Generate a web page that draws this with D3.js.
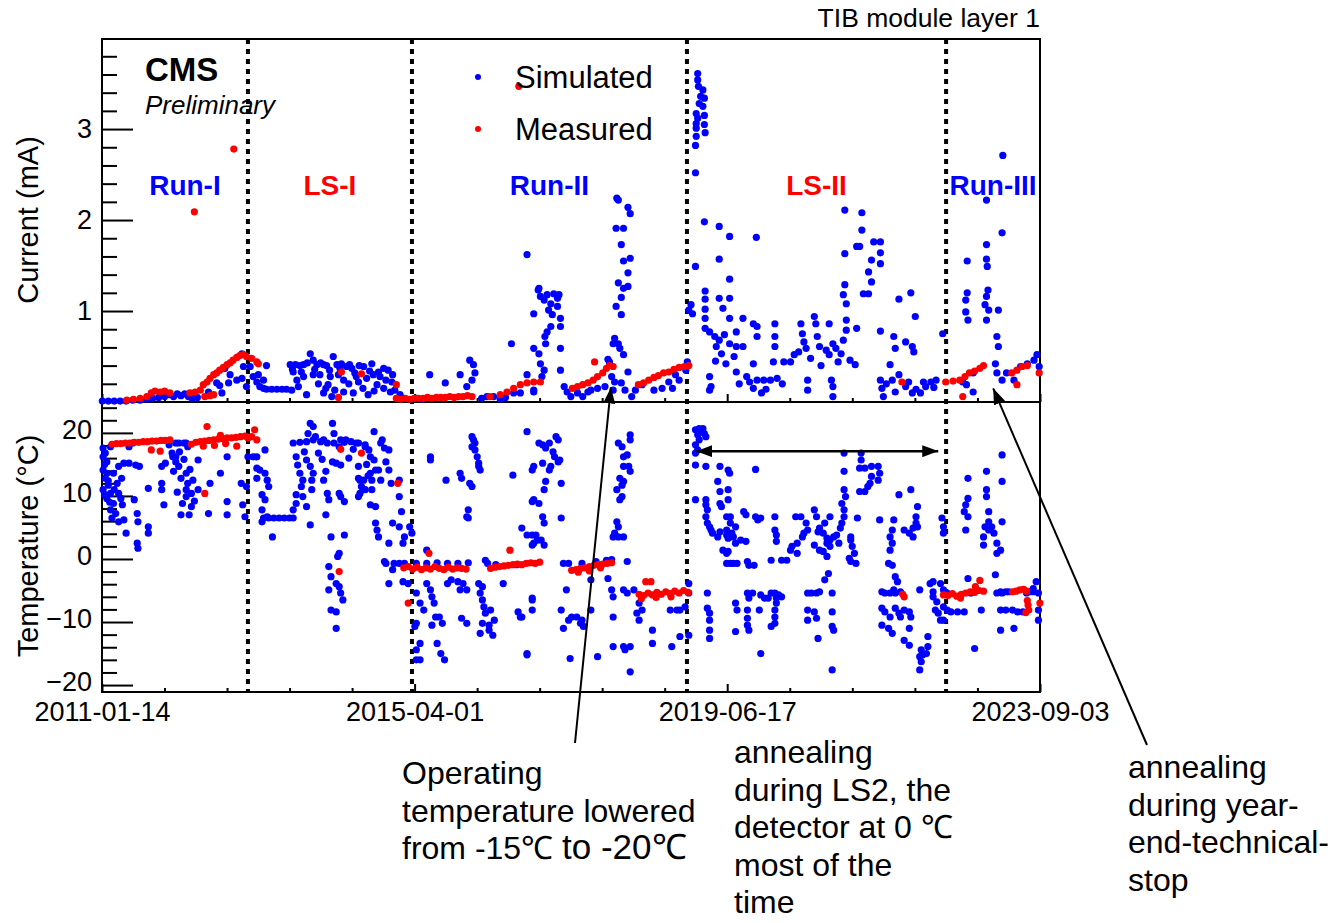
<!DOCTYPE html>
<html>
<head>
<meta charset="utf-8">
<script src="https://cdn.jsdelivr.net/npm/d3@7"></script>
<style>
body { margin: 0; background: #fff; }
svg { font-family: "Liberation Sans", Arial, Helvetica, sans-serif; }
.axis path.domain { display: none; }
.axis line { stroke: #000; stroke-width: 2; }
.axis text { fill: #000; }
</style>
</head>
<body>
<svg width="1331" height="923"></svg>
<script>

// values: [decimal year, value]
var simCurrent = [
 [2011.04,0.01],[2011.12,0.01],[2011.2,0.01],[2011.28,0.01],[2011.36,0.01],[2011.45,0.02],[2011.55,0.02],[2011.64,0.03],
 [2011.72,0.04],[2011.8,0.05],[2011.88,0.06],[2011.95,0.08],[2012.0,0.06],[2012.05,0.09],[2012.1,0.07],[2012.15,0.09],
 [2012.2,0.06],[2012.25,0.04],[2012.32,0.05],[2012.47,0.11],[2012.58,0.21],[2012.62,0.18],[2012.65,0.10],[2012.69,0.37],
 [2012.74,0.21],[2012.76,0.30],[2012.85,0.24],[2012.92,0.26],[2012.94,0.39],[2012.92,0.53],[2012.98,0.17],
 [2013.03,0.39],[2013.07,0.28],[2013.12,0.22],[2013.14,0.30],[2013.16,0.17],[2013.21,0.15],[2013.25,0.40],[2013.21,0.24],
 [2013.25,0.14],[2013.32,0.14],[2013.39,0.14],[2013.46,0.14],[2013.52,0.14],[2013.57,0.41],[2013.61,0.33],[2013.66,0.24],
 [2013.68,0.17],[2013.59,0.13],[2013.75,0.41],[2013.84,0.53],[2013.88,0.46],[2013.93,0.41],[2014.02,0.41],[2013.97,0.30],
 [2014.11,0.28],[2014.08,0.19],[2014.15,0.50],[2014.20,0.41],[2014.24,0.37],[2014.17,0.13],[2014.13,0.06],[2014.29,0.24],
 [2014.33,0.39],[2014.40,0.37],[2014.44,0.32],[2014.49,0.22],[2014.56,0.39],[2014.60,0.26],[2014.67,0.42],[2014.69,0.30],
 [2014.74,0.19],[2014.78,0.28],[2014.83,0.15],[2014.83,0.37],[2014.89,0.35],[2014.94,0.22],[2014.92,0.11],[2014.98,0.13],
 [2015.05,0.08],[2015.10,0.04],[2014.42,0.10],[2014.29,0.11],[2014.02,0.10],[2013.79,0.08],[2013.75,0.28],
 [2013.64,0.41],[2013.70,0.40],[2013.80,0.43],[2013.98,0.43],[2014.06,0.40],[2014.26,0.42],[2014.37,0.41],[2014.50,0.40],
 [2013.88,0.30],[2013.95,0.20],[2014.05,0.15],[2014.36,0.20],[2014.55,0.15],[2014.62,0.08],[2014.70,0.12],[2014.86,0.24],[2014.95,0.30],
 [2013.60,0.36],[2013.72,0.33],[2013.90,0.36],[2014.10,0.35],[2014.22,0.30],[2014.46,0.28],[2014.64,0.34],[2014.76,0.33],
 [2015.27,0.04],[2015.35,0.03],[2015.45,0.30],[2015.66,0.21],[2015.86,0.30],[2015.99,0.46],[2016.04,0.41],[2016.06,0.32],
 [2016.02,0.24],[2015.95,0.17],[2016.15,0.04],[2016.22,0.06],[2016.31,0.06],[2016.40,0.03],[2016.47,0.05],[2016.55,0.64],
 [2016.58,0.10],[2016.67,0.10],[2016.76,1.62],[2016.76,0.30],[2016.85,0.97],[2016.85,0.59],[2016.85,0.11],[2016.91,1.23],
 [2016.92,1.25],[2016.94,1.16],[2016.99,1.12],[2017.03,1.18],[2017.08,1.08],[2017.12,1.19],[2017.17,1.14],[2017.19,1.18],
 [2017.05,1.01],[2017.10,0.96],[2017.17,1.05],[2017.21,0.92],[2017.08,0.83],[2017.03,0.77],[2017.01,0.64],[2017.00,0.72],
 [2017.21,0.83],[2017.21,0.59],[2016.92,0.53],[2016.94,0.42],[2016.99,0.35],[2016.96,0.28],[2017.21,0.35],[2016.85,0.13],
 [2017.26,0.17],[2017.30,0.11],[2017.35,0.06],[2017.44,0.10],[2017.51,0.06],[2017.58,0.11],[2017.62,0.13],[2017.71,0.15],
 [2017.81,0.17],[2017.87,0.44],[2017.85,0.47],
 [2017.97,2.24],[2018.12,2.14],[2017.99,2.22],[2018.15,2.07],[2017.96,1.91],[2018.06,1.91],[2018.03,1.73],[2018.06,1.55],
 [2018.15,1.58],[2018.12,1.42],[2017.99,1.31],[2018.06,1.25],[2018.12,1.27],[2018.03,1.15],[2017.96,1.05],[2018.03,0.96],
 [2017.94,0.70],[2017.99,0.64],[2018.01,0.59],[2018.06,0.52],[2017.92,0.64],[2018.12,0.33],[2017.90,0.28],[2017.94,0.22],
 [2017.92,0.13],[2018.03,0.21],[2018.08,0.13],[2018.17,0.06],[2018.22,0.13],[2018.31,0.19],[2018.47,0.13],[2018.67,0.22],
 [2018.72,0.15],[2018.81,0.24],[2018.90,0.35],[2018.92,0.44],[2018.58,0.15],[2018.76,0.30],
 [2019.06,3.61],[2019.06,3.54],[2019.07,3.47],[2019.13,3.43],[2019.10,3.36],[2019.15,3.34],[2019.08,3.28],[2019.13,3.25],
 [2019.04,3.17],[2019.15,3.15],[2019.06,3.12],[2019.04,3.06],[2019.15,3.05],[2019.04,3.01],[2019.16,2.96],[2019.04,2.92],
 [2019.03,2.82],[2019.03,2.52],
 [2019.15,1.98],[2019.35,1.93],[2019.49,1.82],[2019.03,1.49],[2019.35,1.57],[2019.49,1.35],[2019.85,1.81],[2019.16,1.22],
 [2019.16,1.13],[2019.35,1.14],[2019.49,1.14],[2019.40,1.03],[2019.16,1.02],[2018.97,1.07],[2018.99,0.97],[2018.94,1.01],
 [2019.49,0.92],[2019.16,0.92],[2019.16,0.81],[2019.22,0.77],[2019.29,0.72],[2019.35,0.68],[2019.42,0.74],[2019.49,0.64],
 [2019.31,0.61],[2019.38,0.53],[2019.44,0.42],[2019.58,0.77],[2019.67,0.92],[2019.81,0.86],[2019.86,0.83],[2019.58,0.61],
 [2019.67,0.61],[2019.86,0.72],[2019.81,0.42],[2019.58,0.33],[2019.22,0.28],[2019.24,0.17],[2019.22,0.13],[2019.72,0.28],
 [2019.76,0.22],[2019.86,0.24],[2019.95,0.24],[2020.04,0.24],[2020.13,0.26],[2020.08,0.44],[2020.10,0.86],[2020.10,0.72],
 [2020.10,0.61],[2019.92,0.10],[2019.81,0.15],[2020.22,0.44],[2020.31,0.44],[2020.36,0.52],[2020.42,0.55],[2020.45,0.86],
 [2020.47,0.75],[2020.49,0.66],[2020.52,0.59],[2020.54,0.24],[2020.54,0.13],[2020.63,0.94],[2020.65,0.86],[2020.67,0.72],
 [2020.70,0.61],[2020.79,0.57],[2020.83,0.86],[2020.83,0.52],[2020.88,0.64],[2020.92,0.59],[2020.86,0.24],[2020.88,0.17],
 [2020.88,0.06],[2020.99,0.53],[2021.02,0.68],[2021.06,0.79],[2021.04,2.11],[2021.04,1.63],[2021.04,1.29],[2021.02,1.18],
 [2021.06,1.08],[2021.06,0.90],[2021.11,0.46],[2021.18,0.41],[2021.20,0.81],[2021.20,1.71],[2021.24,1.71],[2021.27,2.08],
 [2021.27,1.89],[2021.43,1.76],[2021.52,1.76],[2021.40,1.56],[2021.52,1.64],[2021.52,1.52],[2021.36,1.43],[2021.40,1.32],
 [2021.29,1.19],[2021.36,1.19],[2021.52,0.78],[2021.52,0.24],[2021.54,0.15],[2021.56,0.06],[2021.65,0.41],[2021.68,0.24],
 [2021.70,0.72],[2021.72,0.59],[2021.77,1.13],[2021.93,1.20],[2021.86,0.66],[2021.95,0.61],[2021.99,0.94],[2021.97,0.55],
 [2021.86,0.17],[2021.95,0.10],[2022.06,0.10],[2022.13,0.17],[2022.20,0.22],[2022.27,0.24],[2022.36,0.75],[2021.72,0.11],[2021.77,0.30],
 [2019.30,0.45],[2019.55,0.50],[2019.62,0.20],[2019.98,0.14],[2020.20,0.20],[2020.58,0.48],[2020.72,0.40],[2020.95,0.44],
 [2021.60,0.20],[2021.90,0.22],[2022.00,0.14],[2022.10,0.22],[2022.24,0.16],
 [2022.69,1.55],[2022.69,1.20],[2022.67,1.12],[2022.67,0.99],[2022.70,0.90],[2022.95,2.22],[2022.95,1.73],[2022.95,1.57],
 [2022.96,1.49],[2022.97,1.23],[2022.95,1.16],[2022.93,1.07],[2022.98,1.01],[2022.95,0.90],[2023.11,1.01],[2023.16,1.86],
 [2023.09,0.72],[2023.11,0.61],[2023.07,0.42],[2023.09,0.32],[2023.16,0.24],[2023.22,0.32],[2022.77,0.32],[2022.68,0.19],
 [2022.77,0.11],[2022.63,0.22],[2023.41,0.39],[2023.50,0.42],[2023.59,0.46],[2023.63,0.52],[2023.66,0.39],[2023.32,0.24],
 [2023.17,2.71]
];

var measCurrent = [
 [2011.37,0.02],[2011.46,0.03],[2011.55,0.04],[2011.64,0.06],[2011.70,0.10],[2011.75,0.12],[2011.82,0.11],[2011.88,0.12],
 [2011.95,0.10],[2012.22,0.10],[2012.29,0.11],[2012.36,0.13],[2012.40,0.19],[2012.45,0.22],[2012.49,0.26],[2012.54,0.30],
 [2012.58,0.32],[2012.62,0.35],[2012.67,0.38],[2012.72,0.41],[2012.76,0.43],[2012.80,0.46],[2012.85,0.49],[2012.89,0.51],
 [2012.94,0.52],[2012.98,0.50],[2013.05,0.48],[2013.12,0.44],[2013.14,0.42],[2012.42,0.06],[2012.49,0.07],[2012.54,0.08],
 [2012.28,2.09],[2012.81,2.78],[2016.65,3.47],
 [2014.26,0.33],[2014.53,0.31],[2015.00,0.19],[2014.22,0.05],
 [2015.00,0.04],[2015.06,0.03],[2015.12,0.04],[2015.18,0.03],[2015.24,0.04],[2015.30,0.04],[2015.36,0.04],[2015.42,0.05],
 [2015.48,0.04],[2015.54,0.05],[2015.60,0.05],[2015.66,0.05],[2015.72,0.06],[2015.78,0.05],[2015.84,0.06],[2015.90,0.06],
 [2015.96,0.07],[2016.02,0.06],
 [2016.26,0.06],[2016.40,0.08],[2016.49,0.11],[2016.58,0.15],[2016.67,0.19],[2016.76,0.21],[2016.85,0.22],[2016.94,0.22],
 [2017.37,0.15],[2017.44,0.17],[2017.51,0.19],[2017.58,0.21],[2017.65,0.24],[2017.71,0.28],[2017.78,0.32],[2017.83,0.37],
 [2017.87,0.40],[2017.92,0.39],[2017.67,0.44],
 [2018.26,0.19],[2018.33,0.21],[2018.40,0.24],[2018.47,0.27],[2018.53,0.29],[2018.60,0.32],[2018.67,0.33],[2018.74,0.36],
 [2018.81,0.38],[2018.88,0.39],[2018.94,0.40],
 [2021.81,0.22],
 [2022.40,0.22],[2022.50,0.23],[2022.59,0.24],[2022.66,0.28],[2022.72,0.32],[2022.79,0.34],[2022.86,0.37],[2022.91,0.40],
 [2022.63,0.06],[2023.29,0.32],[2023.36,0.35],[2023.43,0.39],[2023.50,0.40],[2023.36,0.19],[2023.66,0.32]
];

var simTemp = [
 [2011.05,17.6],[2011.05,16.2],[2011.10,15.4],[2011.05,14.1],[2011.08,12.8],[2011.12,11.7],[2011.05,11.0],[2011.15,10.4],
 [2011.10,9.6],[2011.19,8.8],[2011.15,7.8],[2011.17,6.5],[2011.26,5.9],[2011.24,12.0],[2011.26,10.4],[2011.29,9.6],
 [2011.33,15.2],[2011.40,15.2],[2011.49,14.9],[2011.54,14.7],[2011.36,4.1],[2011.47,9.4],[2011.51,7.2],[2011.52,5.9],
 [2011.51,2.5],[2011.52,1.7],[2011.66,5.1],[2011.66,4.1],[2011.66,11.2],[2011.84,12.0],[2011.84,11.0],[2011.87,8.6],
 [2011.84,14.7],[2011.89,15.2],[2011.98,16.8],[2012.03,16.2],[2012.03,15.4],[2012.07,14.7],[2012.00,13.9],[2012.10,12.8],
 [2012.17,13.6],[2012.17,11.0],[2012.17,9.9],[2012.12,8.8],[2012.24,8.3],[2012.10,7.0],[2012.21,7.0],[2012.24,10.4],
 [2012.26,12.5],[2012.19,12.0],[2012.33,11.0],[2012.33,15.7],[2012.19,17.8],[2012.14,18.4],[2012.03,18.4],[2011.94,18.1],
 [2012.47,7.2],[2012.49,12.0],[2012.63,13.6],[2012.72,16.2],[2012.72,9.1],[2012.72,7.0],[2012.91,12.0],[2012.98,11.5],
 [2013.00,16.2],[2012.93,8.6],[2012.96,6.7],[2011.08,16.8],[2011.15,17.8],[2011.10,13.6],[2011.19,13.6],[2011.31,8.6],
 [2011.26,14.7],[2011.33,6.2],[2011.40,17.8],[2011.45,18.4],[2012.07,18.4],[2012.17,18.4],[2011.99,16.2],[2012.08,17.0],
 [2011.07,15.0],[2011.12,12.4],[2011.14,9.0],[2011.20,11.0],[2011.22,7.2],[2011.07,10.2],[2011.30,12.8],[2012.05,10.6],
 [2012.14,15.8],[2012.22,14.2],[2012.28,9.2],
 [2013.07,16.2],[2013.12,16.2],[2013.12,14.4],[2013.12,12.8],[2013.16,14.1],[2013.23,13.6],[2013.26,12.5],[2013.28,11.5],
 [2013.19,10.2],[2013.23,9.4],[2013.19,7.8],[2013.21,6.5],[2013.19,5.9],[2013.28,6.5],[2013.35,6.5],[2013.42,6.5],
 [2013.49,6.5],[2013.56,6.5],[2013.61,6.5],[2013.26,6.7],[2013.33,3.5],[2013.23,17.3],
 [2013.61,18.4],[2013.70,18.5],[2013.79,18.6],[2013.88,18.9],[2013.98,18.6],[2014.07,18.4],[2014.16,18.4],[2014.30,18.5],
 [2014.39,18.6],[2014.49,18.4],[2014.58,18.1],
 [2013.65,16.2],[2013.67,14.9],[2013.70,13.6],[2013.74,12.5],[2013.72,11.5],[2013.74,9.9],[2013.65,10.2],[2013.65,8.8],
 [2013.61,7.8],[2013.79,8.3],[2013.79,15.7],[2013.84,14.7],[2013.86,12.5],[2013.86,11.0],[2013.84,5.4],[2013.88,13.6],
 [2013.84,21.5],[2013.88,21.0],[2013.81,19.9],[2013.91,19.4],[2014.02,18.9],[2014.05,13.9],[2014.02,12.5],[2014.07,10.4],
 [2014.09,9.4],[2014.05,7.0],[2014.14,21.5],[2014.16,19.9],[2014.14,15.4],[2014.19,15.2],[2014.12,3.5],[2014.09,-1.2],
 [2014.12,-2.8],[2014.09,-4.9],[2014.19,-3.9],[2014.23,-4.4],[2014.25,-5.4],[2014.28,-6.5],[2014.21,0.4],[2014.23,0.9],
 [2014.23,17.8],[2014.25,18.9],[2014.25,14.9],[2014.23,10.4],[2014.25,9.9],[2014.30,9.1],[2014.30,3.8],[2014.32,18.9],
 [2014.12,-8.1],[2014.19,-8.4],[2014.19,-11.0],[2014.46,18.4],[2014.49,14.7],[2014.49,12.8],[2014.51,12.5],[2014.56,12.5],
 [2014.53,11.5],[2014.58,11.0],[2014.51,10.4],[2014.49,9.9],[2014.65,13.6],[2014.67,12.5],[2014.67,11.0],[2014.70,20.2],
 [2014.58,17.8],[2014.63,17.3],[2014.65,16.2],[2014.70,15.7],[2014.72,14.1],[2014.65,8.6],[2014.72,8.3],[2014.72,5.7],
 [2014.74,4.6],[2014.76,3.5],[2014.79,18.4],[2014.81,18.9],[2014.76,14.1],[2014.79,12.5],[2014.84,17.6],[2014.90,17.3],
 [2014.90,14.1],[2014.93,12.0],[2014.90,2.5],[2014.95,5.7],[2015.04,12.5],[2015.04,9.9],[2015.07,7.5],[2015.04,5.1],
 [2015.11,3.5],[2015.09,2.5],[2014.84,-0.4],[2014.86,-0.7],[2014.90,-3.9],[2014.95,-1.7],[2014.97,-0.7],[2015.04,-0.7],
 [2015.11,-0.7],[2015.09,-3.6],[2015.16,-3.9],[2015.18,5.1],[2015.21,4.1],
 [2013.76,17.0],[2013.95,16.8],[2014.00,15.8],[2014.36,16.0],[2014.42,17.4],[2014.60,15.0],[2014.62,13.2],[2014.86,15.4],
 [2015.27,-0.7],[2015.41,-0.7],[2015.55,-0.6],[2015.69,-0.7],[2015.83,-0.7],[2015.97,-0.6],
 [2015.27,-5.4],[2015.32,-7.0],[2015.37,-8.1],[2015.27,-10.2],[2015.25,-10.7],[2015.32,-13.4],[2015.27,-14.4],[2015.27,-16.0],
 [2015.32,-16.0],[2015.41,-3.9],[2015.46,-4.9],[2015.48,-6.0],[2015.51,-7.0],[2015.53,-9.2],[2015.48,-10.5],[2015.55,-13.4],
 [2015.60,-15.0],[2015.65,-16.0],[2015.62,-10.2],[2015.58,-9.2],[2015.69,-3.9],[2015.74,-3.3],[2015.83,-3.6],[2015.86,-4.9],
 [2015.90,-3.9],[2015.95,-4.9],[2015.88,-9.4],[2015.95,-10.2],[2015.41,1.4],[2015.46,16.2],[2015.46,15.7],[2015.67,12.5],
 [2015.86,13.6],[2015.88,12.8],[2015.99,12.0],[2016.02,11.5],[2015.97,7.8],[2015.95,6.7],[2015.97,6.5],[2016.02,19.4],
 [2016.04,18.9],[2016.06,18.4],[2016.02,17.8],[2016.06,17.3],[2016.09,16.2],[2016.11,15.2],[2016.11,14.7],[2016.13,14.1],
 [2016.11,-3.9],[2016.16,-4.4],[2016.13,-5.4],[2016.16,-6.5],[2016.18,-7.6],[2016.20,-8.6],[2016.27,-8.1],[2016.16,-10.2],
 [2016.13,-11.8],[2016.25,-10.5],[2016.32,-9.7],[2016.25,-11.3],[2016.30,-12.1],[2016.44,-3.9],[2016.57,13.3],[2016.64,-8.4],
 [2016.67,-9.2],[2016.76,20.2],[2016.76,-15.0],[2016.83,14.1],[2016.85,9.4],[2016.83,3.8],[2016.85,2.5],[2016.90,3.0],
 [2016.83,-6.5],[2016.23,-0.7],[2016.20,-0.2],[2016.34,-0.9],[2016.62,-0.9],
 [2016.92,18.4],[2016.97,18.1],[2017.01,17.6],[2017.06,18.4],[2017.11,17.0],[2017.13,16.2],[2017.15,19.4],[2017.18,18.9],
 [2017.18,15.4],[2017.20,15.7],[2017.08,14.7],[2017.06,14.1],[2016.85,14.7],[2016.97,15.2],[2017.01,12.3],[2016.99,11.0],
 [2017.22,12.0],[2016.83,9.1],[2016.92,8.8],[2016.97,6.7],[2016.99,5.7],[2017.22,6.5],[2016.76,3.8],[2016.88,3.8],
 [2016.95,3.0],[2016.99,2.2],[2016.83,2.2],[2016.69,4.9],
 [2017.25,-0.7],[2017.32,-0.7],[2017.50,-0.7],[2017.69,-0.4],[2017.83,-0.2],[2017.90,-0.1],
 [2017.62,-3.3],[2016.83,-6.2],[2016.83,-8.1],[2016.69,-9.2],[2016.76,-15.2],[2017.22,-8.1],[2017.25,-11.0],[2017.32,-9.7],
 [2017.36,-9.2],[2017.43,-9.2],[2017.48,-10.2],[2017.50,-9.7],[2017.52,-10.7],[2017.34,-15.8],[2017.29,-4.9],[2017.62,-8.1],
 [2017.71,-15.5],[2017.85,-3.1],[2017.90,-4.9],[2017.92,-6.0],[2017.92,-9.2],
 [2017.99,18.4],[2018.04,17.8],[2018.06,16.2],[2018.11,16.5],[2018.15,19.7],[2018.15,18.9],[2018.06,14.7],[2018.13,14.7],
 [2018.15,13.9],[2018.01,12.8],[2018.06,12.3],[2018.04,11.7],[2017.97,11.0],[2018.04,9.9],[2018.01,9.4],[2017.97,5.9],
 [2017.99,5.1],[2017.94,4.1],[2018.06,3.5],[2018.11,-0.4],[2017.92,-13.9],[2018.06,-13.9],[2018.15,-13.9],[2018.08,-14.4],
 [2018.15,-17.9],[2017.92,3.5],[2017.99,3.5],[2018.06,-4.9],[2018.11,-5.4],[2018.20,-4.9],[2018.27,-7.0],[2018.24,-8.6],
 [2018.27,-9.7],[2018.31,-8.1],[2018.45,-11.3],[2018.45,-13.4],[2018.71,-13.9],[2018.82,-12.3],[2018.69,-8.1],[2018.78,-8.1],
 [2018.82,-8.1],[2018.89,-7.6],[2018.94,-3.9],[2018.94,-5.4],[2018.94,-12.1],
 [2019.03,20.5],[2019.08,20.7],[2019.13,20.7],[2019.15,19.9],[2019.06,19.7],[2019.08,18.9],[2019.03,18.1],[2019.06,17.3],
 [2019.17,19.4],[2019.03,16.8],[2019.10,20.2],
 [2019.03,14.9],[2019.17,14.7],[2019.36,14.7],[2019.47,14.1],[2019.49,13.6],[2019.84,14.2],[2019.33,12.3],[2019.47,11.0],
 [2019.36,10.7],[2019.47,9.4],[2019.36,8.8],[2019.38,8.3],[2019.03,9.4],[2019.17,9.4],[2019.17,8.6],[2019.19,7.8],
 [2019.17,6.7],[2019.19,5.7],[2019.22,5.1],[2019.24,4.6],[2019.26,4.1],[2019.33,3.5],[2019.36,4.3],[2019.45,4.6],
 [2019.45,3.8],[2019.47,3.3],[2019.50,5.7],[2019.52,4.1],[2019.54,3.5],[2019.57,5.1],[2019.45,6.7],[2019.50,6.7],
 [2019.68,7.5],[2019.71,7.0],[2019.84,6.7],[2019.87,6.2],[2019.91,6.5],[2019.64,3.0],[2019.71,2.8],[2019.57,2.5],
 [2019.40,1.4],[2019.45,0.9],[2019.47,1.2],[2020.10,6.7],[2020.10,4.6],[2020.12,3.8],[2020.12,2.8],[2020.38,6.7],
 [2020.45,6.7],[2020.52,5.7],[2020.54,4.6],[2020.49,4.1],[2020.47,3.5],[2020.40,2.5],[2020.33,2.0],[2020.31,1.4],
 [2020.40,0.9],[2020.26,-0.2],[2020.19,-0.2],[2020.05,-0.2],[2020.63,7.8],[2020.66,6.7],[2020.70,4.9],[2020.68,4.3],
 [2020.75,4.1],[2020.80,3.3],[2020.84,3.0],[2020.89,3.5],[2020.93,3.8],[2020.96,2.5],[2020.98,4.9],[2021.00,5.7],
 [2021.03,6.7],[2021.03,7.8],[2021.00,8.8],[2021.05,9.9],[2021.03,11.0],[2021.03,13.9],[2021.03,16.8],[2021.26,16.8],
 [2021.26,15.7],[2021.24,14.4],[2021.31,14.4],[2021.40,14.7],[2021.49,14.7],[2021.51,13.6],[2021.49,12.5],[2021.40,13.1],
 [2021.38,12.0],[2021.35,11.5],[2021.31,10.7],[2021.24,10.7],[2021.12,3.5],[2021.12,3.0],[2021.14,2.0],[2021.17,0.9],
 [2021.12,-0.4],[2021.19,-0.7],[2021.21,6.5],[2020.84,6.7],[2020.63,2.2],[2020.70,1.4],[2020.75,1.2],[2020.80,0.4],
 [2020.80,2.5],[2020.84,2.0],[2020.77,5.7],[2019.45,-0.7],[2019.50,-0.7],[2019.54,-0.7],[2019.59,-0.7],[2019.73,-0.4],
 [2019.75,-1.0],[2019.82,-1.0],[2021.10,0.1],
 [2019.19,-5.4],[2019.19,-7.8],[2019.22,-8.6],[2019.22,-9.7],[2019.22,-11.3],[2019.22,-12.6],[2019.57,-7.0],[2019.59,-8.1],
 [2019.57,-11.5],[2019.73,-5.4],[2019.75,-6.2],[2019.80,-5.4],[2019.73,-8.1],[2019.73,-9.4],[2019.73,-10.5],[2019.75,-11.3],
 [2019.89,-8.1],[2019.91,-5.7],[2019.96,-6.2],[2020.01,-6.2],[2020.05,-5.4],[2020.10,-5.4],[2020.12,-6.2],[2020.15,-5.7],
 [2020.19,-6.0],[2020.12,-7.0],[2020.10,-8.1],[2020.10,-9.2],[2020.05,-10.7],[2020.10,-10.2],[2019.91,-15.0],[2020.54,-5.4],
 [2020.59,-5.4],[2020.66,-5.4],[2020.70,-5.2],[2020.77,-3.3],[2020.82,-2.3],[2020.87,-5.4],[2020.54,-8.1],[2020.54,-9.7],
 [2020.63,-8.4],[2020.66,-9.4],[2020.68,-12.6],[2020.87,-8.4],[2020.87,-10.7],[2020.89,-11.3],[2020.87,-17.6],
 [2021.51,6.2],[2021.70,6.2],[2021.68,4.6],[2021.77,10.2],[2021.93,11.0],[2022.02,8.3],[2022.00,6.7],[2022.00,5.7],
 [2021.96,4.9],[2021.91,4.1],[2021.84,4.6],[2021.96,3.5],[2022.02,5.1],[2021.65,3.5],[2021.68,2.5],[2021.65,1.4],
 [2021.63,-0.7],[2021.68,-1.0],[2021.72,-2.8],[2021.75,-3.6],[2021.70,-4.9],[2021.54,-5.2],[2021.58,-5.4],[2021.65,-5.4],
 [2021.72,-5.4],[2021.79,-5.2],[2021.54,-7.8],[2021.58,-8.4],[2021.65,-9.2],[2021.72,-7.8],[2021.77,-8.6],[2021.79,-9.2],
 [2021.84,-8.1],[2021.91,-8.4],[2021.93,-9.2],[2021.54,-10.5],[2021.63,-11.0],[2021.68,-11.8],[2021.84,-12.9],[2021.91,-13.7],
 [2021.91,-11.0],[2022.05,-4.9],[2022.07,-14.4],[2022.05,-15.5],[2022.09,-15.2],[2022.14,-15.0],[2022.16,-13.9],[2022.07,-16.3],
 [2022.05,-17.6],[2022.16,-12.3],[2022.19,-3.9],[2022.23,-3.6],[2022.23,-5.2],[2022.23,-6.0],[2022.28,-6.8],[2022.26,-8.1],
 [2022.30,-8.6],[2022.33,-9.7],[2022.33,-3.9],
 [2022.35,6.5],[2022.37,5.1],[2022.37,4.1],[2022.37,-4.9],[2022.37,-7.6],[2022.42,-8.1],[2022.37,-9.7],[2022.42,-5.4],
 [2022.47,-8.4],[2022.56,-8.4],[2022.65,-8.4],[2022.70,12.8],[2022.70,9.6],[2022.67,8.6],[2022.65,7.5],[2022.70,6.7],
 [2022.67,4.6],[2022.70,-3.1],[2022.74,-5.4],[2022.79,-14.2],[2022.88,-8.1],[2022.95,13.9],[2022.95,11.0],[2022.95,9.9],
 [2022.98,7.5],[2022.98,5.9],[2022.93,5.1],[2022.98,4.6],[2023.02,5.1],[2023.05,4.1],[2023.09,2.5],[2022.91,3.5],
 [2022.91,2.2],[2023.09,0.9],[2023.07,-2.5],[2023.09,-5.4],[2023.14,-8.1],[2023.16,-5.4],[2023.14,-11.3],[2023.16,16.5],
 [2023.16,12.3],[2023.16,5.9],[2023.14,1.4],[2023.21,-8.1],[2023.30,-8.1],[2023.32,-11.0],[2023.37,-8.4],[2023.44,-8.4],
 [2023.49,-5.4],[2023.53,-5.2],[2023.58,-5.2],[2023.62,-3.6],[2023.65,-5.4],[2023.65,-8.1],[2023.65,-9.7],[2023.58,-4.7],
 [2023.14,-5.2],[2023.21,-5.2],[2023.25,-5.2]
];

var measTemp = [
 [2011.17,18.2],[2011.23,18.3],[2011.29,18.3],[2011.35,18.4],[2011.41,18.4],[2011.47,18.5],[2011.53,18.5],[2011.59,18.6],
 [2011.65,18.6],[2011.71,18.7],[2011.77,18.7],[2011.83,18.8],[2011.89,18.8],[2011.95,18.9],
 [2012.24,18.2],[2012.30,18.5],[2012.36,18.6],[2012.42,18.7],[2012.48,18.8],[2012.54,18.9],[2012.60,19.0],[2012.66,19.1],
 [2012.72,19.2],[2012.78,19.2],[2012.84,19.3],[2012.90,19.4],[2012.96,19.5],[2012.40,17.9],[2012.55,18.0],[2012.70,18.3],
 [2012.85,17.9],[2012.63,19.6],
 [2012.45,21.0],[2011.70,17.3],[2011.82,17.1],[2012.42,10.4],[2013.09,20.5],[2013.12,18.9],[2013.05,19.4],[2013.00,19.2],
 [2014.25,17.4],[2014.53,16.8],[2014.23,-2.0],[2015.02,12.0],[2015.16,-7.0],
 [2015.10,-1.4],[2015.16,-1.2],[2015.22,-1.6],[2015.28,-1.3],[2015.34,-1.7],[2015.40,-1.4],[2015.46,-1.6],[2015.52,-1.2],
 [2015.58,-1.5],[2015.64,-1.7],[2015.70,-1.3],[2015.76,-1.6],[2015.82,-1.4],[2015.88,-1.5],[2015.94,-1.6],[2015.44,0.9],
 [2016.27,-1.5],[2016.33,-1.3],[2016.39,-1.2],[2016.45,-1.1],[2016.51,-1.0],[2016.57,-0.9],[2016.63,-0.8],[2016.69,-0.9],
 [2016.75,-0.7],[2016.81,-0.6],[2016.87,-0.7],[2016.93,-0.5],[2016.53,1.4],
 [2017.36,-1.8],[2017.42,-1.7],[2017.48,-1.5],[2017.54,-1.4],[2017.60,-1.2],[2017.66,-1.0],[2017.72,-0.9],[2017.78,-0.8],
 [2017.84,-0.7],[2017.90,-0.6],[2017.45,-2.1],[2017.60,-1.9],[2017.75,-1.4],
 [2018.27,-5.6],[2018.33,-5.8],[2018.39,-5.4],[2018.45,-5.7],[2018.51,-5.3],[2018.57,-5.6],[2018.63,-5.2],[2018.69,-5.5],
 [2018.75,-5.1],[2018.81,-5.4],[2018.87,-5.0],[2018.93,-5.3],[2018.36,-3.6],[2018.43,-3.6],[2018.30,-6.3],[2018.50,-6.1],
 [2018.70,-6.0],
 [2021.82,-5.6],[2021.84,-6.0],
 [2022.37,-5.7],[2022.43,-5.8],[2022.49,-5.5],[2022.55,-5.9],[2022.61,-5.6],[2022.67,-5.4],[2022.73,-5.2],[2022.79,-5.3],
 [2022.85,-5.0],[2022.91,-5.1],[2022.86,-3.4],[2022.80,-4.4],[2022.60,-6.2],
 [2023.30,-5.2],[2023.35,-5.1],[2023.40,-4.9],[2023.45,-4.8],[2023.49,-5.1],[2023.50,-6.6],[2023.51,-7.3],[2023.52,-8.1],
 [2023.48,-8.5],[2023.67,-7.0]
];

var xTickLabels = ["2011-01-14", "2015-04-01", "2019-06-17", "2023-09-03"];
var boundaries = ["2013-01-01", "2015-03-19", "2018-12-01", "2022-05-29"];
var periodNames = ["Run-I", "LS-I", "Run-II", "LS-II", "Run-III"];
var periodColors = ["#0000ff", "#ff0000", "#0000ff", "#ff0000", "#0000ff"];
var currentTicks = [1, 2, 3];
var tempTicks = [-20, -10, 0, 10, 20];

var svg = d3.select("svg"),
   margin = {top: 39, left: 102},
   width = 938,
   topH = 363,
   botH = 290,
   g = svg.append("g").attr("transform", "translate(" + margin.left + "," + margin.top + ")");

var parseDate = d3.timeParse("%Y-%m-%d");
function yearToDate(v) {
 var yr = Math.floor(v), a = new Date(yr, 0, 1), b = new Date(yr + 1, 0, 1);
 return new Date(+a + (v - yr) * (b - a));
}

var xMajor = xTickLabels.map(parseDate);
var x = d3.scaleTime().domain([xMajor[0], xMajor[3]]).range([0, width]);
var yCur = d3.scaleLinear().domain([0, 3.99]).range([topH, 0]);
var yTemp = d3.scaleLinear().domain([-21.1, 24.9]).range([topH + botH, topH]);

var xMinor = [];
for (var i = 0; i < 3; i++) {
 for (var k = 1; k < 5; k++) xMinor.push(new Date(+xMajor[i] + (xMajor[i + 1] - xMajor[i]) * k / 5));
}
var curMinor = d3.range(0.2, 3.95, 0.2).filter(function(v) { return Math.abs(v - Math.round(v)) > 0.01; });
var tempMinor = d3.range(-20, 25, 2).filter(function(v) { return v % 10 !== 0; });

// x ticks under both panels
[topH, topH + botH].forEach(function(yy, j) {
 g.append("g").attr("class", "axis").attr("transform", "translate(0," + yy + ")")
   .call(d3.axisBottom(x).tickValues(xMinor).tickSize(-4).tickFormat(""));
 g.append("g").attr("class", "axis").attr("transform", "translate(0," + yy + ")")
   .call(d3.axisBottom(x).tickValues(xMajor).tickSize(-8).tickPadding(10)
     .tickFormat(j ? d3.timeFormat("%Y-%m-%d") : ""))
   .selectAll("text").style("font-size", "27px");
});

// y axes
g.append("g").attr("class", "axis")
   .call(d3.axisLeft(yCur).tickValues(curMinor).tickSize(-15).tickFormat(""));
g.append("g").attr("class", "axis")
   .call(d3.axisLeft(yCur).tickValues(currentTicks).tickSize(-31).tickPadding(10).tickFormat(d3.format("d")))
   .selectAll("text").style("font-size", "27px");
g.append("g").attr("class", "axis")
   .call(d3.axisLeft(yTemp).tickValues(tempMinor).tickSize(-15).tickFormat(""));
g.append("g").attr("class", "axis")
   .call(d3.axisLeft(yTemp).tickValues(tempTicks).tickSize(-31).tickPadding(10).tickFormat(d3.format("d")))
   .selectAll("text").style("font-size", "27px").attr("dy", "0.2em");

// frames
g.append("rect").attr("width", width).attr("height", topH)
   .attr("fill", "none").attr("stroke", "#000").attr("stroke-width", 2);
g.append("rect").attr("y", topH).attr("width", width).attr("height", botH)
   .attr("fill", "none").attr("stroke", "#000").attr("stroke-width", 2);

// period boundaries
g.selectAll(".boundary")
 .data(boundaries.map(parseDate))
 .enter().append("line")
   .attr("class", "boundary")
   .attr("x1", function(d) { return x(d); })
   .attr("x2", function(d) { return x(d); })
   .attr("y1", 0)
   .attr("y2", topH + botH)
   .attr("stroke", "#000")
   .attr("stroke-width", 4)
   .attr("stroke-dasharray", "5,5");

// points
function dots(data, yScale, color) {
 g.append("g").selectAll("circle")
   .data(data)
   .enter().append("circle")
     .attr("cx", function(d) { return x(yearToDate(d[0])); })
     .attr("cy", function(d) { return yScale(d[1]); })
     .attr("r", 3.6)
     .attr("fill", color);
}
dots(simCurrent, yCur, "#0000ff");
dots(measCurrent, yCur, "#ff0000");
dots(simTemp, yTemp, "#0000ff");
dots(measTemp, yTemp, "#ff0000");

// period names, centred between boundaries
var edges = [x.domain()[0]].concat(boundaries.map(parseDate), [x.domain()[1]]);
g.selectAll(".period")
 .data(periodNames)
 .enter().append("text")
   .attr("class", "period")
   .attr("x", function(d, i) { return (x(edges[i]) + x(edges[i + 1])) / 2 + (i ? 0 : 10); })
   .attr("y", 195 - margin.top)
   .attr("text-anchor", "middle")
   .attr("fill", function(d, i) { return periodColors[i]; })
   .style("font-size", "28px")
   .style("font-weight", "bold")
   .text(function(d) { return d; });

// titles and legend
svg.append("text").attr("x", 1040).attr("y", 27).attr("text-anchor", "end")
   .style("font-size", "26.5px").text("TIB module layer 1");
svg.append("text").attr("x", 145).attr("y", 81)
   .style("font-size", "33px").style("font-weight", "bold").text("CMS");
svg.append("text").attr("x", 145).attr("y", 114)
   .style("font-size", "26px").style("font-style", "italic").text("Preliminary");

var legend = svg.append("g");
[["Simulated", "#0000ff", 77], ["Measured", "#ff0000", 129]].forEach(function(l) {
 legend.append("circle").attr("cx", 478).attr("cy", l[2]).attr("r", 3).attr("fill", l[1]);
 legend.append("text").attr("x", 515).attr("y", l[2] + 11).style("font-size", "31px").text(l[0]);
});

svg.append("text")
   .attr("transform", "translate(38,220) rotate(-90)")
   .attr("text-anchor", "middle")
   .style("font-size", "29px")
   .text("Current (mA)");
svg.append("text")
   .attr("transform", "translate(38,546) rotate(-90)")
   .attr("text-anchor", "middle")
   .style("font-size", "29px")
   .text("Temperature (°C)");

// annotations
var defs = svg.append("defs");
defs.append("marker")
   .attr("id", "head")
   .attr("viewBox", "0 0 16 12")
   .attr("refX", 16).attr("refY", 6)
   .attr("markerWidth", 16).attr("markerHeight", 12)
   .attr("markerUnits", "userSpaceOnUse")
   .attr("orient", "auto-start-reverse")
 .append("path").attr("d", "M0,0L16,6L0,12Z").attr("fill", "#000");

function px(v) { return margin.left + x(yearToDate(v)); }
svg.append("line")
   .attr("x1", 575).attr("y1", 743)
   .attr("x2", px(2017.89)).attr("y2", margin.top + yCur(0.16))
   .attr("stroke", "#000").attr("stroke-width", 2).attr("marker-end", "url(#head)");
svg.append("line")
   .attr("x1", 1147).attr("y1", 745)
   .attr("x2", px(2023.04)).attr("y2", margin.top + yCur(0.15))
   .attr("stroke", "#000").attr("stroke-width", 2).attr("marker-end", "url(#head)");
svg.append("line")
   .attr("x1", px(2019.04)).attr("y1", margin.top + yTemp(17.1))
   .attr("x2", px(2022.30)).attr("y2", margin.top + yTemp(17.1))
   .attr("stroke", "#000").attr("stroke-width", 2.5)
   .attr("marker-start", "url(#head)").attr("marker-end", "url(#head)");

function note(x0, y0, lines) {
 var t = svg.append("text").style("font-size", "32px");
 lines.forEach(function(l, i) {
   t.append("tspan").attr("x", x0).attr("y", y0 + i * 37.5).text(l);
 });
 return t;
}
var n1 = note(402, 784, ["Operating", "temperature lowered", "from -15℃ "]);
n1.append("tspan").style("font-size", "35px").text("to -20℃");
note(734, 763, ["annealing", "during LS2, the", "detector at 0 ℃", "most of the", "time"]);
note(1128, 778, ["annealing", "during year-", "end-technical-", "stop"]);

</script>
</body>
</html>
